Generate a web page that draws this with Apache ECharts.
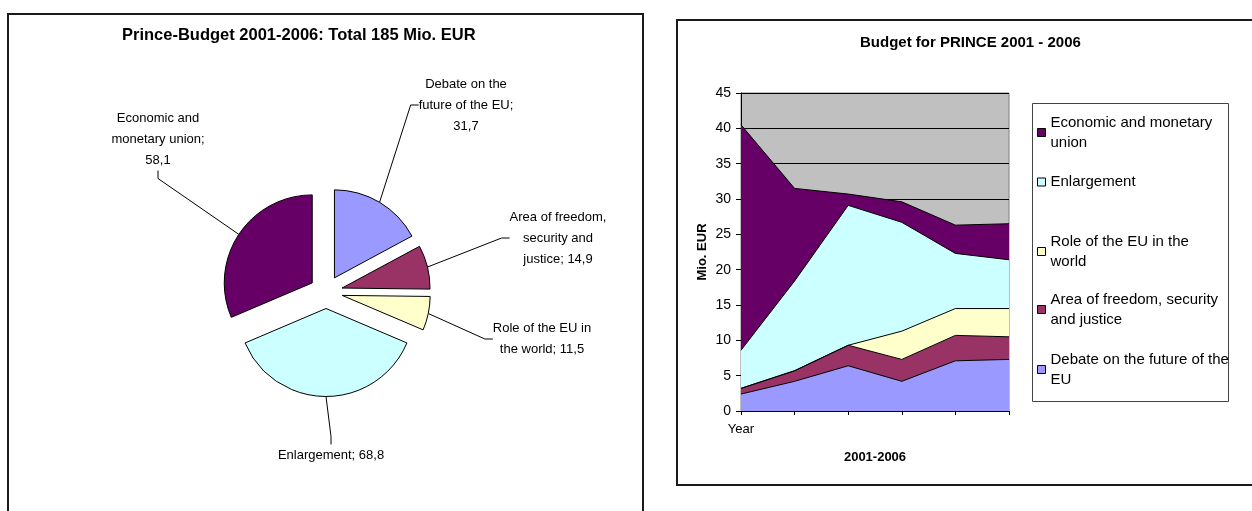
<!DOCTYPE html>
<html>
<head>
<meta charset="utf-8">
<script src="https://cdn.jsdelivr.net/npm/echarts@6/dist/echarts.min.js"></script>
<style>
    html, body { margin: 0; padding: 0; background: #fff; }
    #chart { width: 1252px; height: 511px; }
</style>
</head>
<body>
<div id="chart"></div>
<script>
// pie: share of the total budget
var pieNames = ['Debate on the future of the EU', 'Area of freedom, security and justice',
    'Role of the EU in the world', 'Enlargement', 'Economic and monetary union'];
var pieValues = [31.7, 14.9, 11.5, 68.8, 58.1];
var pieLabelText = ['Debate on the\nfuture of the EU;\n', 'Area of freedom,\nsecurity and\njustice; ',
    'Role of the EU in\nthe world; ', 'Enlargement; ', 'Economic and\nmonetary union;\n'];

// stacked area: budget per year
var years = ['Year', '', '', '', '', ''];
var debate = [2.4, 4.2, 6.4, 4.2, 7.1, 7.3];
var freedom = [0.8, 1.5, 2.9, 3.1, 3.6, 3.2];
var role = [0, 0, 0, 4.0, 3.8, 4.0];
var enlargement = [5.4, 12.7, 19.8, 15.4, 7.8, 6.9];
var emu = [31.9, 13.1, 1.6, 2.9, 4.0, 5.1];
var yTicks = [0, 45, 5]; // min, max, step

var colors = ['#9999FF', '#993366', '#FFFFCC', '#CCFFFF', '#660066'];
var font = 'Arial, "Liberation Sans", sans-serif';

// pie geometry
var pieCenter = [326, 292];
var pieRadius = 88;
var explode = 16.5;
// where the pie labels sit (centre of each text block)
var labelPos = [[466, 105], [558, 238], [542, 339], [331, 455], [158, 139]];

// legend: order top to bottom and position of each row
var legendOrder = [4, 3, 2, 1, 0];
var legendTop = [115, 172, 234, 292, 352];
var legendText = {
    'Economic and monetary union': 'Economic and monetary\nunion',
    'Enlargement': 'Enlargement',
    'Role of the EU in the world': 'Role of the EU in the\nworld',
    'Area of freedom, security and justice': 'Area of freedom, security\nand justice',
    'Debate on the future of the EU': 'Debate on the future of the\nEU'
};

function fmt(v) {
    return v.toFixed(1).replace('.', ',');
}

// one pie series per slice, so each slice can be pulled out on its own
var total = pieValues.reduce(function (a, b) { return a + b; }, 0);
var cum = 0;
var pieSeries = pieNames.map(function (n, i) {
    var start = cum;
    cum += pieValues[i];
    var mid = (start + pieValues[i] / 2) / total * 2 * Math.PI;
    return {
        type: 'pie',
        name: 'pie' + i,
        center: [pieCenter[0] + explode * Math.sin(mid), pieCenter[1] - explode * Math.cos(mid)],
        radius: pieRadius,
        startAngle: 90 - start / total * 360,
        clockwise: true,
        avoidLabelOverlap: false,
        silent: true,
        emphasis: { disabled: true },
        data: [{
            name: n,
            value: pieValues[i],
            itemStyle: { color: colors[i], borderColor: '#000', borderWidth: 1 }
        }, {
            name: '',
            value: total - pieValues[i],
            itemStyle: { color: 'transparent', borderWidth: 0 },
            label: { show: false },
            labelLine: { show: false }
        }],
        label: {
            show: true,
            position: 'outside',
            fontSize: 13,
            lineHeight: 21,
            color: '#000',
            fontFamily: font,
            formatter: function (p) {
                return pieLabelText[i] + fmt(p.value);
            }
        },
        labelLine: { show: true, length: 20, length2: 8, lineStyle: { color: '#000', width: 1 } },
        labelLayout: function () {
            return { x: labelPos[i][0], y: labelPos[i][1], align: 'center', verticalAlign: 'middle' };
        }
    };
});

var areaValues = [debate, freedom, role, enlargement, emu];
var areaSeries = pieNames.map(function (n, i) {
    return {
        name: n,
        type: 'line',
        stack: 'total',
        symbol: 'none',
        data: areaValues[i],
        lineStyle: { color: '#000', width: 1 },
        itemStyle: { color: colors[i] },
        areaStyle: { color: colors[i], opacity: 1 },
        emphasis: { disabled: true }
    };
});

// one legend block per entry so the rows keep Excel's even spacing
var legends = legendOrder.map(function (i, k) {
    var twoLines = legendText[pieNames[i]].indexOf('\n') >= 0;
    return {
        orient: 'vertical',
        left: 1037, top: legendTop[k],
        padding: 0,
        itemWidth: 8, itemHeight: 8,
        icon: 'rect',
        selectedMode: false,
        data: [{ name: pieNames[i], itemStyle: { color: colors[i], borderColor: '#000', borderWidth: 1 } }],
        formatter: function (name) { return legendText[name]; },
        textStyle: {
            fontSize: 15, lineHeight: 20, color: '#000', fontFamily: font,
            padding: twoLines ? [0, 0, -20, 0] : 0
        }
    };
});

var myChart = echarts.init(document.getElementById('chart'));

var option = {
    animation: false,
    backgroundColor: '#fff',
    textStyle: { fontFamily: font },
    title: [{
        text: 'Prince-Budget 2001-2006: Total 185 Mio. EUR',
        left: 122, top: 27, padding: 0,
        textStyle: { fontSize: 16.5, fontWeight: 'bold', color: '#000', fontFamily: font }
    }, {
        text: 'Budget for PRINCE 2001 - 2006',
        left: 860, top: 35, padding: 0,
        textStyle: { fontSize: 15, fontWeight: 'bold', color: '#000', fontFamily: font }
    }],
    graphic: [{
        type: 'rect', shape: { x: 8, y: 14, width: 635, height: 520 },
        style: { fill: 'transparent', stroke: '#1a1a1a', lineWidth: 2 }, silent: true
    }, {
        type: 'rect', shape: { x: 677, y: 20, width: 600, height: 465 },
        style: { fill: 'transparent', stroke: '#1a1a1a', lineWidth: 2 }, silent: true
    }, {
        type: 'rect', shape: { x: 1032.5, y: 103.5, width: 196, height: 298 },
        style: { fill: 'transparent', stroke: '#444', lineWidth: 1 }, silent: true
    }],
    legend: legends,
    grid: {
        left: 741, right: 243, top: 93, bottom: 100,
        show: true, backgroundColor: '#C0C0C0', borderColor: '#808080', borderWidth: 1
    },
    xAxis: {
        type: 'category',
        boundaryGap: false,
        data: years,
        name: '2001-2006',
        nameLocation: 'middle',
        nameGap: 40,
        nameTextStyle: { fontSize: 13, fontWeight: 'bold', color: '#000' },
        axisLine: { lineStyle: { color: '#000', width: 1 } },
        axisTick: { show: true, interval: 0, length: 4, lineStyle: { color: '#000' } },
        axisLabel: { interval: 0, fontSize: 13, color: '#000', margin: 12 },
        splitLine: { show: false }
    },
    yAxis: {
        type: 'value',
        min: yTicks[0], max: yTicks[1], interval: yTicks[2],
        name: 'Mio. EUR',
        nameLocation: 'middle',
        nameGap: 32,
        nameTextStyle: { fontSize: 13, fontWeight: 'bold', color: '#000' },
        axisLine: { show: true, lineStyle: { color: '#000', width: 1 } },
        axisTick: { show: true, length: 5, lineStyle: { color: '#000' } },
        axisLabel: { fontSize: 14, color: '#000', margin: 10 },
        splitLine: { show: true, lineStyle: { color: '#000', width: 1 } }
    },
    series: pieSeries.concat(areaSeries)
};

myChart.setOption(option);
</script>
</body>
</html>
